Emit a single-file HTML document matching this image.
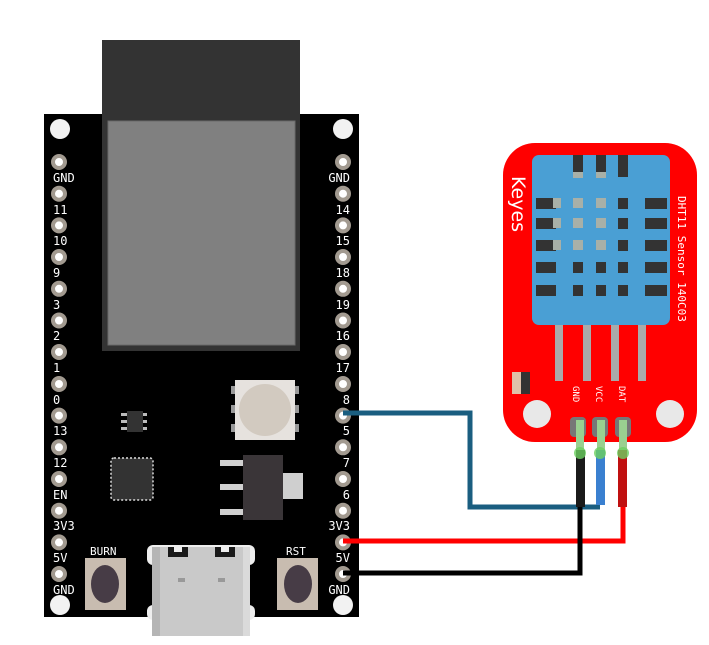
<!DOCTYPE html>
<html><head><meta charset="utf-8"><style>
html,body{margin:0;padding:0;background:#fff;width:709px;height:645px;overflow:hidden}
svg text{font-family:"DejaVu Sans Mono","Liberation Mono",monospace;fill:#fff}
</style></head><body>
<svg width="709" height="645" viewBox="0 0 709 645" xmlns="http://www.w3.org/2000/svg">
<!-- board -->
<rect x="44" y="114" width="315" height="503" fill="#000"/>
<rect x="102" y="40" width="198" height="311" fill="#333"/>
<rect x="108" y="121" width="187" height="224" fill="#808080" stroke="#6a6a6a" stroke-width="1"/>
<g fill="#f2f2f2">
<circle cx="60" cy="129" r="10"/><circle cx="343" cy="129" r="10"/>
<circle cx="60" cy="605" r="10"/><circle cx="343" cy="605" r="10"/>
</g>
<g id="pins" fill="#fff" stroke="#a29a90" stroke-width="4">
<circle cx="59" cy="162" r="6"/><circle cx="59" cy="193.7" r="6"/><circle cx="59" cy="225.4" r="6"/><circle cx="59" cy="257" r="6"/><circle cx="59" cy="288.8" r="6"/><circle cx="59" cy="320.5" r="6"/><circle cx="59" cy="352" r="6"/><circle cx="59" cy="384" r="6"/><circle cx="59" cy="415.6" r="6"/><circle cx="59" cy="447.3" r="6"/><circle cx="59" cy="479" r="6"/><circle cx="59" cy="510.7" r="6"/><circle cx="59" cy="542.4" r="6"/><circle cx="59" cy="574" r="6"/>
<circle cx="343" cy="162" r="6"/><circle cx="343" cy="193.7" r="6"/><circle cx="343" cy="225.4" r="6"/><circle cx="343" cy="257" r="6"/><circle cx="343" cy="288.8" r="6"/><circle cx="343" cy="320.5" r="6"/><circle cx="343" cy="352" r="6"/><circle cx="343" cy="384" r="6"/><circle cx="343" cy="415.6" r="6"/><circle cx="343" cy="447.3" r="6"/><circle cx="343" cy="479" r="6"/><circle cx="343" cy="510.7" r="6"/><circle cx="343" cy="542.4" r="6"/><circle cx="343" cy="574" r="6"/>
</g>
<g font-size="12">
<text x="53" y="182">GND</text><text x="53" y="214">11</text><text x="53" y="245">10</text><text x="53" y="277">9</text><text x="53" y="309">3</text><text x="53" y="340">2</text><text x="53" y="372">1</text><text x="53" y="404">0</text><text x="53" y="435">13</text><text x="53" y="467">12</text><text x="53" y="499">EN</text><text x="53" y="530">3V3</text><text x="53" y="562">5V</text><text x="53" y="594">GND</text>
</g>
<g font-size="12" text-anchor="end">
<text x="350" y="182">GND</text><text x="350" y="214">14</text><text x="350" y="245">15</text><text x="350" y="277">18</text><text x="350" y="309">19</text><text x="350" y="340">16</text><text x="350" y="372">17</text><text x="350" y="404">8</text><text x="350" y="435">5</text><text x="350" y="467">7</text><text x="350" y="499">6</text><text x="350" y="530">3V3</text><text x="350" y="562">5V</text><text x="350" y="594">GND</text>
</g>
<!-- LED -->
<rect x="231" y="386" width="68" height="8" fill="#999"/>
<rect x="231" y="405" width="68" height="8" fill="#999"/>
<rect x="231" y="424" width="68" height="8" fill="#999"/>
<rect x="235" y="380" width="60" height="60" fill="#e6e2de"/>
<circle cx="265" cy="410" r="26" fill="#d2cac0"/>
<!-- small IC -->
<rect x="121" y="413" width="26" height="3" fill="#bbb"/><rect x="121" y="420" width="26" height="3" fill="#bbb"/><rect x="121" y="427" width="26" height="3" fill="#bbb"/>
<rect x="127" y="411" width="16" height="21" fill="#333"/>
<!-- QFN -->
<rect x="111" y="458" width="42" height="42" rx="3" fill="#333" stroke="#ddd" stroke-width="1.5" stroke-dasharray="2 2"/>
<!-- regulator -->
<rect x="220" y="460" width="24" height="6" fill="#d0d0d0"/><rect x="220" y="484" width="24" height="6" fill="#d0d0d0"/><rect x="220" y="509" width="24" height="6" fill="#d0d0d0"/>
<rect x="283" y="473" width="20" height="26" fill="#cfcfcf"/>
<rect x="243" y="455" width="40" height="65" fill="#3a3538"/>
<!-- buttons -->
<rect x="85" y="558" width="41" height="52" fill="#c8bcb0"/><ellipse cx="105" cy="584" rx="14" ry="19" fill="#473c46"/>
<rect x="277" y="558" width="41" height="52" fill="#c8bcb0"/><ellipse cx="298" cy="584" rx="14" ry="19" fill="#473c46"/>
<text x="90" y="555" font-size="11">BURN</text><text x="286" y="555" font-size="11">RST</text>
<!-- USB -->
<rect x="147" y="545" width="108" height="20" rx="6" fill="#eee"/>
<rect x="147" y="605" width="108" height="15" rx="6" fill="#eee"/>
<rect x="152" y="547" width="98" height="89" fill="#c9c9c9"/>
<rect x="152" y="547" width="8" height="89" fill="#b5b5b5"/><rect x="243" y="547" width="7" height="89" fill="#dadada"/>
<rect x="168" y="547" width="20" height="10" fill="#1a1a1a"/><rect x="215" y="547" width="20" height="10" fill="#1a1a1a"/>
<rect x="174" y="547" width="8" height="5" fill="#eee"/><rect x="221" y="547" width="8" height="5" fill="#eee"/>
<rect x="178" y="578" width="7" height="4" fill="#999"/><rect x="218" y="578" width="7" height="4" fill="#999"/>
<!-- sensor board -->
<rect x="503" y="143" width="194" height="299" rx="32" fill="#ff0000"/>
<rect x="532" y="155" width="138" height="170" rx="7" fill="#4a9fd4"/>
<g fill="#333">
<rect x="573" y="155" width="10" height="22"/><rect x="596" y="155" width="10" height="22"/><rect x="618" y="155" width="10" height="22"/>
<rect x="536" y="198" width="20" height="11"/><rect x="536" y="218" width="20" height="11"/><rect x="536" y="240" width="20" height="11"/><rect x="536" y="262" width="20" height="11"/><rect x="536" y="285" width="20" height="11"/>
<rect x="645" y="198" width="22" height="11"/><rect x="645" y="218" width="22" height="11"/><rect x="645" y="240" width="22" height="11"/><rect x="645" y="262" width="22" height="11"/><rect x="645" y="285" width="22" height="11"/>
<rect x="618" y="198" width="10" height="11"/><rect x="618" y="218" width="10" height="11"/><rect x="618" y="240" width="10" height="11"/><rect x="618" y="262" width="10" height="11"/><rect x="618" y="285" width="10" height="11"/>
<rect x="573" y="262" width="10" height="11"/><rect x="596" y="262" width="10" height="11"/>
<rect x="573" y="285" width="10" height="11"/><rect x="596" y="285" width="10" height="11"/>
</g>
<g fill="#a8b0a8">
<rect x="573" y="172" width="10" height="6"/><rect x="596" y="172" width="10" height="6"/>
<rect x="553" y="198" width="8" height="10"/><rect x="553" y="218" width="8" height="10"/><rect x="553" y="240" width="8" height="10"/>
<rect x="573" y="198" width="10" height="10"/><rect x="573" y="218" width="10" height="10"/><rect x="573" y="240" width="10" height="10"/>
<rect x="596" y="198" width="10" height="10"/><rect x="596" y="218" width="10" height="10"/><rect x="596" y="240" width="10" height="10"/>
</g>
<g fill="#aaa"><rect x="555" y="325" width="8" height="56"/><rect x="583" y="325" width="8" height="56"/><rect x="611" y="325" width="8" height="56"/><rect x="638" y="325" width="8" height="56"/></g>
<rect x="512" y="372" width="9" height="22" fill="#e0c0a8"/><rect x="521" y="372" width="9" height="22" fill="#333"/>
<circle cx="537" cy="414" r="14" fill="#e8e8e8"/><circle cx="670" cy="414" r="14" fill="#e8e8e8"/>
<text transform="translate(512,176) rotate(90)" font-size="19" style="font-family:'DejaVu Sans',sans-serif">Keyes</text>
<text transform="translate(678,196) rotate(90)" font-size="11">DHT11 Sensor 140C03</text>
<g font-size="9"><text transform="translate(573,386) rotate(90)">GND</text><text transform="translate(596,386) rotate(90)">VCC</text><text transform="translate(619,386) rotate(90)">DAT</text></g>
<g fill="#777"><rect x="570" y="417" width="16" height="20" rx="4"/><rect x="592" y="417" width="16" height="20" rx="4"/><rect x="615" y="417" width="16" height="20" rx="4"/></g>
<g fill="#9ad090"><rect x="576" y="420" width="8" height="32"/><rect x="597" y="420" width="8" height="32"/><rect x="619" y="420" width="8" height="32"/></g>
<!-- board wires -->
<g fill="none" stroke-width="5">
<polyline points="343,413 470,413 470,507 600,507" stroke="#1a5e80"/>
<polyline points="343,541 623,541 623,507" stroke="#ff0000"/>
<polyline points="343,573 580,573 580,507" stroke="#000"/>
</g>
<!-- sensor wires -->
<rect x="576" y="450" width="9" height="57" fill="#1a1a1a"/>
<rect x="596" y="450" width="9" height="55" fill="#3a80d0"/>
<rect x="618" y="450" width="9" height="57" fill="#c01010"/>
<g fill="#6cd060" opacity="0.8"><circle cx="580" cy="453" r="6"/><circle cx="600" cy="453" r="6"/><circle cx="623" cy="453" r="6"/></g>
</svg>
</body></html>
